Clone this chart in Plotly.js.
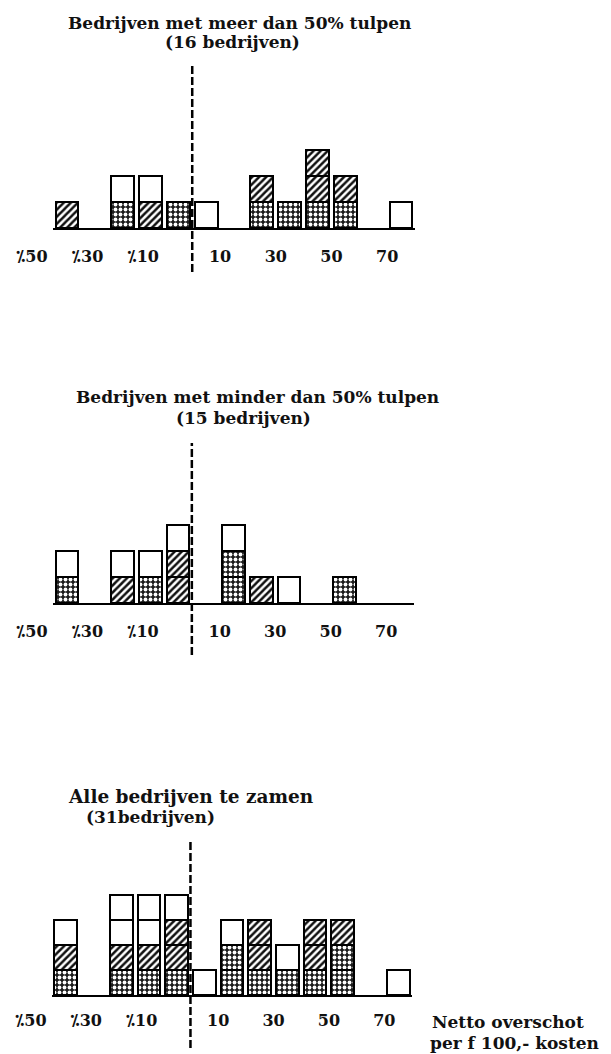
<!DOCTYPE html>
<html>
<head>
<meta charset="utf-8">
<script src="https://cdn.plot.ly/plotly-3.0.1.min.js"></script>
<style>
  html, body { margin: 0; padding: 0; background: #fff; }
  #chart { width: 611px; height: 1054px; }
</style>
</head>
<body>
<div id="chart"></div>
<script>
// ---------------- DATA ----------------
// class centres (netto overschot per f 100,- kosten), classes of 10
const bins = [-45, -35, -25, -15, -5, 5, 15, 25, 35, 45, 55, 65, 75];
const negTickVals = [-50, -30, -10];
const negTickLabels = ['⁒50', '⁒30', '⁒10'];
const posTickVals = [10, 30, 50, 70];
const posTickLabels = ['10', '30', '50', '70'];

const titles = [
  'Bedrijven met meer dan 50% tulpen',
  'Bedrijven met minder dan 50% tulpen',
  'Alle bedrijven te zamen'
];
const subtitles = ['(16 bedrijven)', '(15 bedrijven)', '(31bedrijven)'];
const axisNote = ['Netto overschot', 'per f 100,- kosten'];

// number of bedrijven per class, by box type (stippled, hatched, open)
const meerDotted  = [0, 0, 1, 0, 1, 0, 0, 1, 1, 1, 1, 0, 0];
const meerHatched = [1, 0, 0, 1, 0, 0, 0, 1, 0, 2, 1, 0, 0];
const meerWhite   = [0, 0, 1, 1, 0, 1, 0, 0, 0, 0, 0, 0, 1];

const minderDotted  = [1, 0, 0, 1, 0, 0, 2, 0, 0, 0, 1, 0, 0];
const minderHatched = [0, 0, 1, 0, 2, 0, 0, 1, 0, 0, 0, 0, 0];
const minderWhite   = [1, 0, 1, 1, 1, 0, 1, 0, 1, 0, 0, 0, 0];

const alleDotted  = [1, 0, 1, 1, 1, 0, 2, 1, 1, 1, 2, 0, 0];
const alleHatched = [1, 0, 1, 1, 2, 0, 0, 2, 0, 2, 1, 0, 0];
const alleWhite   = [1, 0, 2, 2, 1, 1, 1, 0, 1, 0, 0, 0, 1];

// ---------------- STYLE ----------------
const W = 611, H = 1054;
const FONT = 'DejaVu Serif, Liberation Serif, serif';
const boxStyle = {
  dot:   { color: '#1c1c1c', pattern: { shape: '.', bgcolor: '#1c1c1c', fgcolor: '#ffffff', size: 5, solidity: 0.45, fillmode: 'replace' } },
  hatch: { color: '#ffffff', pattern: { shape: '/', bgcolor: '#ffffff', fgcolor: '#111111', size: 5, solidity: 0.5, fillmode: 'replace' } },
  white: { color: '#ffffff', pattern: { shape: '' } }
};
const boxTypes = ['dot', 'hatch', 'white'];
const NEG_LABEL_SHIFT = -21;   // the negative labels sit left of their class limits

// panel placement in pixels
const panels = [
  { xl: 53, xr: 415, yb: 228, unit: 26, title: [240, 23], sub: [232, 42], dash: [65, 272], tsize: 17 },
  { xl: 53, xr: 414, yb: 603, unit: 26, title: [257, 397], sub: [243, 418], dash: [443, 655], tsize: 17 },
  { xl: 52, xr: 412, yb: 995, unit: 25, title: [191, 796], sub: [150, 817], dash: [840, 1048], tsize: 18.5 }
];
const Y_UNITS = 6;

const series = [
  [meerDotted, meerHatched, meerWhite],
  [minderDotted, minderHatched, minderWhite],
  [alleDotted, alleHatched, alleWhite]
];

const traces = [];
const layout = {
  width: W, height: H,
  margin: { l: 0, r: 0, t: 0, b: 0 },
  paper_bgcolor: '#fff', plot_bgcolor: 'rgba(0,0,0,0)',
  barmode: 'stack',
  showlegend: false,
  font: { family: FONT, color: '#111', weight: 'bold' },
  annotations: [], shapes: []
};
const tickFont = { family: FONT, size: 16, color: '#111', weight: 'bold' };

series.forEach((s, p) => {
  const [d, h, w] = s;
  const suffix = p === 0 ? '' : String(p + 1);
  const xa = 'x' + suffix, ya = 'y' + suffix;
  const xo = 'x' + (p + 4);
  const totals = bins.map((_, i) => d[i] + h[i] + w[i]);
  const maxH = Math.max(...totals);
  // one unit box per bedrijf: stippled at the bottom, then hatched, then open
  for (let k = 0; k < maxH; k++) {
    boxTypes.forEach(type => {
      const y = bins.map((_, i) => {
        let t = null;
        if (k < d[i]) t = 'dot';
        else if (k < d[i] + h[i]) t = 'hatch';
        else if (k < totals[i]) t = 'white';
        return t === type ? 1 : null;
      });
      if (!y.some(v => v !== null)) return;
      const st = boxStyle[type];
      traces.push({
        type: 'bar', x: bins, y: y, xaxis: xa, yaxis: ya, width: 8.2,
        marker: { color: st.color, line: { color: '#000', width: 2 }, pattern: st.pattern },
        hoverinfo: 'skip'
      });
    });
  }

  const pl = panels[p];
  const hPx = pl.unit * Y_UNITS;
  const yb = 1 - pl.yb / H, yt = 1 - (pl.yb - hPx) / H;
  const standoff = p === 2 ? 10 : 13;
  layout['xaxis' + suffix] = {
    domain: [pl.xl / W, pl.xr / W], anchor: ya, range: [-50, 80],
    showline: true, linecolor: '#000', linewidth: 2,
    showgrid: false, zeroline: false, ticks: '',
    tickmode: 'array', tickvals: posTickVals, ticktext: posTickLabels, tickangle: 0,
    tickfont: tickFont, ticklabelstandoff: standoff, fixedrange: true
  };
  // overlay axis carrying the negative labels
  layout['xaxis' + (p + 4)] = {
    overlaying: xa, anchor: ya, side: 'bottom', range: [-50, 80],
    showline: true, linecolor: 'rgba(0,0,0,0)', linewidth: 2,
    showgrid: false, zeroline: false, ticks: '',
    tickmode: 'array', tickvals: negTickVals, ticktext: negTickLabels, tickangle: 0,
    tickfont: tickFont, ticklabelstandoff: standoff, ticklabelshift: NEG_LABEL_SHIFT,
    fixedrange: true
  };
  layout['yaxis' + suffix] = {
    domain: [yb, yt], anchor: xa, range: [0, Y_UNITS],
    visible: false, showgrid: false, zeroline: false, fixedrange: true
  };
  // dashed line at zero
  layout.shapes.push({
    type: 'line', xref: xa, x0: 0, x1: 0,
    yref: 'paper', y0: 1 - pl.dash[1] / H, y1: 1 - pl.dash[0] / H,
    line: { color: '#000', width: 2.5, dash: '8px,3px' }
  });
  layout.annotations.push({
    text: titles[p], xref: 'paper', yref: 'paper',
    x: pl.title[0] / W, y: 1 - pl.title[1] / H, xanchor: 'center', yanchor: 'middle',
    showarrow: false, font: { family: FONT, size: pl.tsize, color: '#111', weight: 'bold' }
  });
  layout.annotations.push({
    text: subtitles[p], xref: 'paper', yref: 'paper',
    x: pl.sub[0] / W, y: 1 - pl.sub[1] / H, xanchor: 'center', yanchor: 'middle',
    showarrow: false, font: { family: FONT, size: 17, color: '#111', weight: 'bold' }
  });
  // invisible trace so the overlay axis is drawn
  traces.push({ type: 'scatter', x: [], y: [], xaxis: xo, yaxis: ya, hoverinfo: 'skip' });
});

layout.annotations.push({
  text: axisNote[0], xref: 'paper', yref: 'paper', x: 430 / W, y: 1 - 1022 / H,
  xanchor: 'left', yanchor: 'middle', showarrow: false,
  font: { family: FONT, size: 17, color: '#111', weight: 'bold' }
});
layout.annotations.push({
  text: axisNote[1], xref: 'paper', yref: 'paper', x: 428 / W, y: 1 - 1043 / H,
  xanchor: 'left', yanchor: 'middle', showarrow: false,
  font: { family: FONT, size: 17, color: '#111', weight: 'bold' }
});

Plotly.newPlot('chart', traces, layout, { displayModeBar: false, staticPlot: true });
</script>
</body>
</html>
